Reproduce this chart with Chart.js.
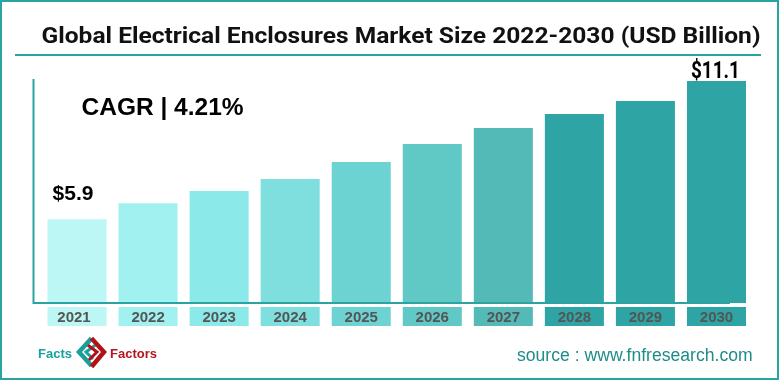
<!DOCTYPE html>
<html>
<head>
<meta charset="utf-8">
<script src="https://cdn.jsdelivr.net/npm/chart.js@4.4.0/dist/chart.umd.min.js"></script>
<style>
  html, body { margin: 0; padding: 0; background: #ffffff; }
  #wrap { width: 780px; height: 381px; position: relative; }
</style>
</head>
<body>
<div id="wrap"><canvas id="c" width="780" height="381"></canvas></div>
<script>
const categories = ["2021", "2022", "2023", "2024", "2025", "2026", "2027", "2028", "2029", "2030"];
const marketSize = [5.9, 6.5, 6.96, 7.41, 8.05, 8.73, 9.33, 9.86, 10.35, 11.1];
const valueLabels = ["$5.9", "", "", "", "", "", "", "", "", "$11.1"];
const barColors = ["#BCF6F5", "#A0F1F0", "#8CE9E9", "#7EDFDE", "#6CD3D2", "#60C8C5", "#54BAB8", "#2EA5A4", "#2EA5A4", "#2EA5A4"];
const titleText = "Global Electrical Enclosures Market Size 2022-2030 (USD Billion)";
const cagrText = "CAGR | 4.21%";
const sourceText = "source : www.fnfresearch.com";

const TEAL = "#2BA3A1";

function fitText(ctx, text, x, y, width) {
  const w = ctx.measureText(text).width;
  ctx.save();
  ctx.translate(x, y);
  ctx.scale(width / w, 1);
  ctx.textAlign = "left";
  ctx.fillText(text, 0, 0);
  ctx.restore();
}

const decorPlugin = {
  id: "decor",
  beforeDraw(chart) {
    const ctx = chart.ctx;
    ctx.save();
    ctx.fillStyle = "#ffffff";
    ctx.fillRect(0, 0, chart.width, chart.height);
    // outer frame
    ctx.strokeStyle = TEAL;
    ctx.lineWidth = 2;
    ctx.strokeRect(1, 1, chart.width - 3, chart.height - 3);
    // title
    ctx.fillStyle = "#111111";
    ctx.font = "bold 22px Roboto, 'Liberation Sans', sans-serif";
    ctx.textBaseline = "alphabetic";
    fitText(ctx, titleText, 41.5, 42.5, 719);
    // title underline
    ctx.strokeStyle = TEAL;
    ctx.lineWidth = 2;
    ctx.beginPath();
    ctx.moveTo(15, 55);
    ctx.lineTo(761, 55);
    ctx.stroke();
    // CAGR
    ctx.fillStyle = "#000000";
    ctx.textAlign = "left";
    ctx.font = "bold 24.5px 'Liberation Sans', Arial, sans-serif";
    ctx.fillText(cagrText, 81.5, 115);
    // source
    ctx.fillStyle = "#1E8C8A";
    ctx.font = "17.6px 'Liberation Sans', Arial, sans-serif";
    ctx.fillText(sourceText, 517, 361);
    // logo
    ctx.font = "bold 13px 'Liberation Sans', Arial, sans-serif";
    ctx.fillStyle = "#17A29E";
    ctx.fillText("Facts", 38, 358, 35);
    ctx.fillStyle = "#B8141C";
    ctx.fillText("Factors", 110, 358, 48);
    ctx.lineCap = "square";
    ctx.lineJoin = "miter";
    ctx.lineWidth = 4.5;
    ctx.strokeStyle = "#1A9E9A";
    ctx.beginPath();
    ctx.moveTo(90, 340); ctx.lineTo(79, 352); ctx.lineTo(90, 364);
    ctx.stroke();
    ctx.lineWidth = 3;
    ctx.beginPath();
    ctx.moveTo(94, 346); ctx.lineTo(86, 352); ctx.lineTo(92, 358);
    ctx.stroke();
    ctx.strokeStyle = "#B01218";
    ctx.lineWidth = 4.5;
    ctx.beginPath();
    ctx.moveTo(93, 340); ctx.lineTo(104, 352); ctx.lineTo(93, 365);
    ctx.stroke();
    ctx.lineWidth = 3;
    ctx.beginPath();
    ctx.moveTo(89, 346); ctx.lineTo(97, 352); ctx.lineTo(90, 359);
    ctx.stroke();
    ctx.restore();
  },
  afterDatasetsDraw(chart) {
    const ctx = chart.ctx;
    const meta = chart.getDatasetMeta(0);
    const area = chart.chartArea;
    ctx.save();
    // frame lines of plot
    ctx.strokeStyle = TEAL;
    ctx.lineWidth = 2;
    ctx.beginPath();
    ctx.moveTo(area.left - 8, 79);
    ctx.lineTo(area.left - 8, area.bottom);
    ctx.lineTo(730, area.bottom);
    ctx.stroke();
    // category label boxes
    meta.data.forEach((bar, i) => {
      const w = bar.width;
      ctx.fillStyle = barColors[i];
      ctx.fillRect(bar.x - w / 2, area.bottom + 4, w, 19);
      ctx.fillStyle = "#555555";
      ctx.font = "bold 15px 'Liberation Sans', Arial, sans-serif";
      ctx.textAlign = "center";
      ctx.textBaseline = "alphabetic";
      ctx.fillText(categories[i], bar.x - (i === 0 ? 3 : 0), area.bottom + 19);
      // value labels
      if (valueLabels[i]) {
        ctx.fillStyle = "#000000";
        if (i === 0) {
          ctx.textAlign = "center";
          ctx.font = "bold 21px 'Liberation Sans', Arial, sans-serif";
          ctx.fillText(valueLabels[i], bar.x - 4, bar.y - 19);
        } else {
          ctx.font = "bold 23px Roboto, 'Liberation Sans', sans-serif";
          fitText(ctx, valueLabels[i], bar.x - 25.5, bar.y - 3, 49);
        }
      }
    });
    ctx.restore();
  }
};

new Chart(document.getElementById("c"), {
  type: "bar",
  data: {
    labels: categories,
    datasets: [{
      data: marketSize,
      backgroundColor: barColors,
      borderWidth: 0,
      barPercentage: 1,
      categoryPercentage: 0.831
    }]
  },
  options: {
    responsive: false,
    devicePixelRatio: 1,
    animation: false,
    layout: { padding: { top: 81, bottom: 78, left: 41.5, right: 28 } },
    plugins: { legend: { display: false }, title: { display: false }, tooltip: { enabled: false } },
    scales: {
      x: { display: false },
      y: { display: false, min: 2.75, max: 11.1 }
    }
  },
  plugins: [decorPlugin]
});
</script>
</body>
</html>
